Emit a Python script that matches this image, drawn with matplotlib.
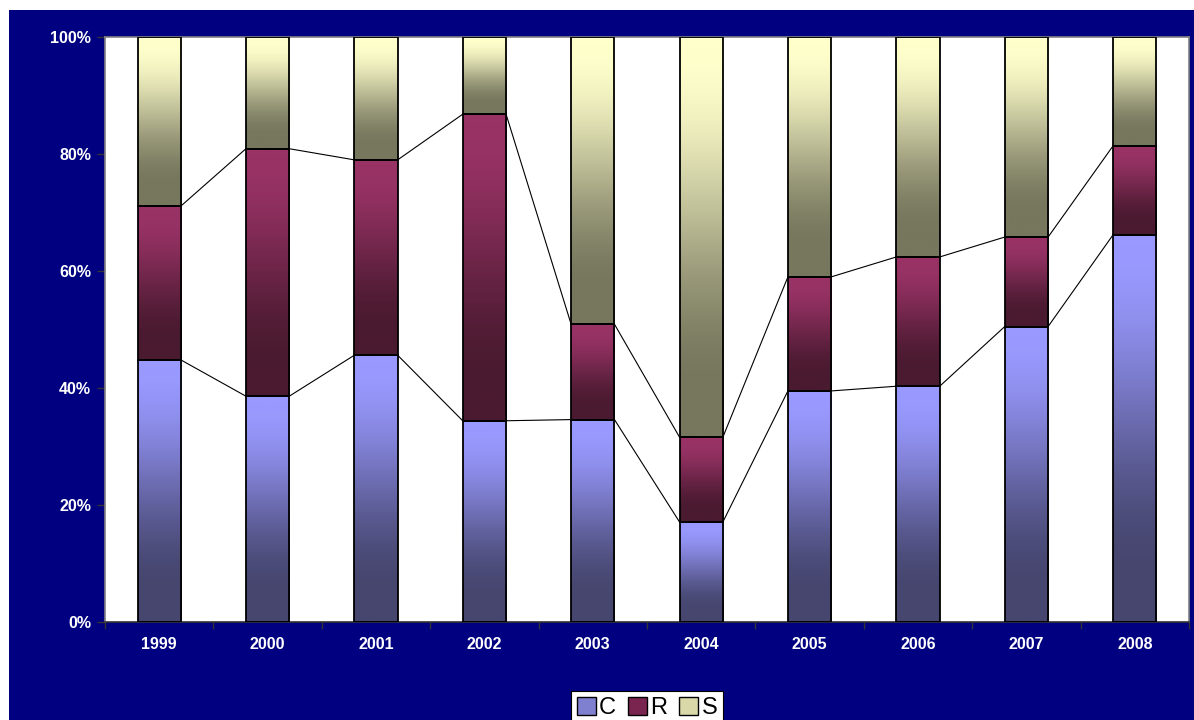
import numpy as np
import matplotlib
matplotlib.use("Agg")
import matplotlib.pyplot as plt
from matplotlib.patches import Rectangle, Patch
from matplotlib.colors import to_rgb

# Shares per year (percent of total)
years = ["1999", "2000", "2001", "2002", "2003", "2004", "2005", "2006", "2007", "2008"]
share_c = [44.8, 38.6, 45.6, 34.4, 34.6, 17.1, 39.5, 40.3, 50.5, 66.2]
share_r = [26.3, 42.3, 33.4, 52.4, 16.3, 14.5, 19.5, 22.1, 15.3, 15.2]
share_s = [28.9, 19.1, 21.0, 13.2, 49.1, 68.4, 41.0, 37.6, 34.2, 18.6]
series_names = ["C", "R", "S"]

# Gradient end colours (top, bottom) per series
grad_colors = {
    "C": ("#9999ff", "#46466f"),
    "R": ("#993366", "#4a1a30"),
    "S": ("#ffffcc", "#77775e"),
}
NAVY = "#000080"

plt.rcParams["font.family"] = ["Liberation Sans", "DejaVu Sans"]

fig = plt.figure(figsize=(11.94, 7.2), dpi=100, facecolor="white")
# navy chart area
fig.patches.append(Rectangle((9 / 1194, 0), 1 - 9 / 1194, 1 - 10 / 720,
                             transform=fig.transFigure, facecolor=NAVY,
                             edgecolor="none", zorder=-10))

ax = fig.add_axes([105 / 1194, 1 - 622 / 720, 1084 / 1194, 585 / 720])
ax.set_zorder(1)
ax.set_facecolor("white")

data = np.array([share_c, share_r, share_s]) / 100.0
totals = data.sum(axis=0)
data = data / totals
x = np.arange(len(years))
bar_w = 0.4


def gradient_img(top, bottom, n=256):
    t = np.linspace(0, 1, n)  # 0 at bottom, 1 at top
    s = np.clip((1 - t - 0.03) / 0.85, 0, 1)  # distance from top
    f = 3 * s ** 2 - 2 * s ** 3
    c0 = np.array(to_rgb(top))
    c1 = np.array(to_rgb(bottom))
    img = c0[None, :] + (c1 - c0)[None, :] * f[:, None]
    return img[:, None, :]


bottoms = np.zeros(len(years))
cum_tops = []
for name, vals in zip(series_names, data):
    bars = ax.bar(x, vals, bar_w, bottom=bottoms, facecolor="none",
                  edgecolor="black", linewidth=1.3, zorder=3)
    img = gradient_img(*grad_colors[name])
    for xi, b, v in zip(x, bottoms, vals):
        ax.imshow(img, extent=[xi - bar_w / 2, xi + bar_w / 2, b, b + v],
                  origin="lower", aspect="auto", zorder=2, interpolation="bilinear")
    bottoms = bottoms + vals
    cum_tops.append(bottoms.copy())

# series lines joining the segment tops of neighbouring bars
for tops in cum_tops[:-1]:
    for i in range(len(years) - 1):
        ax.plot([x[i] + bar_w / 2, x[i + 1] - bar_w / 2], [tops[i], tops[i + 1]],
                color="black", linewidth=0.8, zorder=2.5)

ax.set_xlim(-0.5, len(years) - 0.5)
ax.set_ylim(0, 1)
ax.set_yticks([0, 0.2, 0.4, 0.6, 0.8, 1.0])
ax.set_yticklabels(["0%", "20%", "40%", "60%", "80%", "100%"])
ax.set_xticks(x)
ax.set_xticklabels(years)
ax.set_xticks(np.arange(-0.5, len(years)), minor=True)
ax.tick_params(axis="x", which="major", length=0, pad=11, labelsize=11.5,
               labelcolor="white")
ax.tick_params(axis="x", which="minor", length=5, width=1, color="#333333",
               direction="out")
ax.tick_params(axis="y", length=6, width=1, color="#333333", pad=4,
               labelsize=11.5, labelcolor="white")
for lbl in ax.get_xticklabels() + ax.get_yticklabels():
    lbl.set_fontweight("bold")
for sp in ax.spines.values():
    sp.set_color("#808080")
    sp.set_linewidth(1.2)
ax.spines["bottom"].set_color("#333333")

handles = [Patch(facecolor="#8080d0", edgecolor="black", label="C"),
           Patch(facecolor="#7a2550", edgecolor="black", label="R"),
           Patch(facecolor="#d8d8a8", edgecolor="black", label="S")]
leg = fig.legend(handles=handles, loc="upper center",
                 bbox_to_anchor=(647 / 1194, 1 - 691 / 720), ncol=3,
                 frameon=True, fancybox=False, fontsize=17, framealpha=1,
                 handlelength=0.8, handleheight=0.8, handletextpad=0.15,
                 columnspacing=0.5, borderpad=0.25, borderaxespad=0)
leg.get_frame().set_edgecolor("black")
leg.get_frame().set_facecolor("white")
leg.get_frame().set_linewidth(0.8)

fig.savefig("out.png", dpi=100, facecolor=fig.get_facecolor())
